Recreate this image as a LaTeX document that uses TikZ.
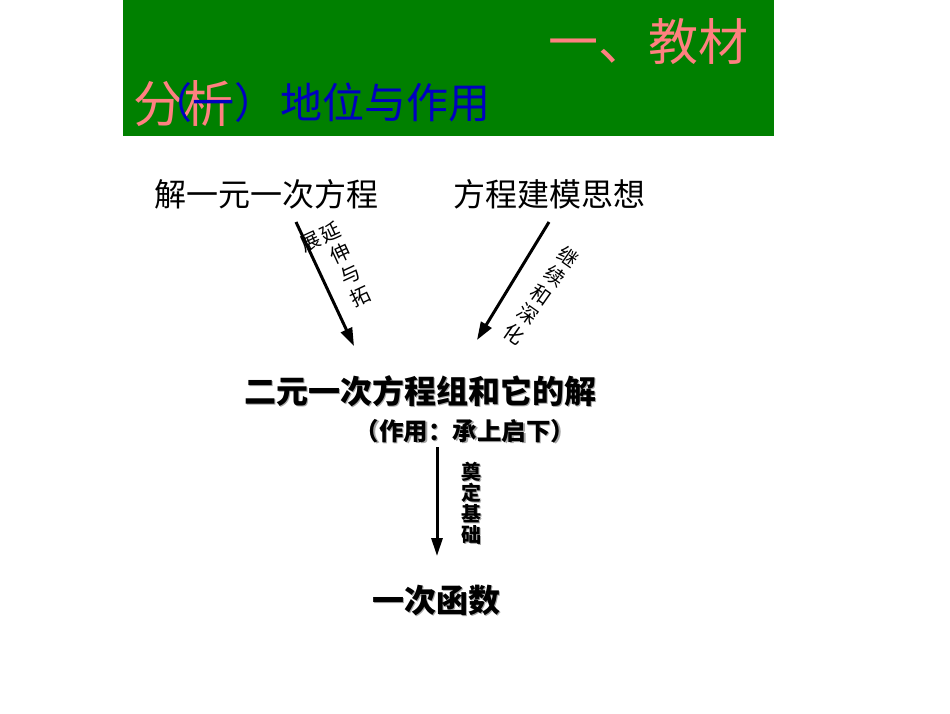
\documentclass[tikz,border=0pt]{standalone}
\usepackage{fontspec}
\usetikzlibrary{arrows.meta}
\newfontfamily\cjk{Noto Sans CJK SC}
\definecolor{bandgreen}{HTML}{008000}
\definecolor{pinktxt}{HTML}{FF8080}
\definecolor{bluetxt}{HTML}{0000C0}
\tikzset{
  lbl/.style={font=\cjk\fontsize{20}{23.5}\selectfont, align=center, inner sep=0pt},
  lblb/.style={font=\cjk\bfseries\fontsize{20}{21}\selectfont, align=center, inner sep=0pt},
  big/.style={font=\cjk\fontsize{32}{36}\selectfont, inner sep=0pt},
  bigb/.style={font=\cjk\bfseries\fontsize{32}{36}\selectfont, inner sep=0pt},
  midb/.style={font=\cjk\bfseries\fontsize{24.5}{28}\selectfont, inner sep=0pt},
  shadow/.style={text=black!35},
  arr/.style={line width=3pt, -{Triangle[length=18pt,width=12pt]}},
}
\begin{document}
\begin{tikzpicture}[x=1pt,y=1pt]
\useasboundingbox (0,0) rectangle (950,-713);
\fill[white] (0,0) rectangle (950,-713);
% header band
\fill[bandgreen] (123,0) rectangle (774,-136);
\node[font=\cjk\fontsize{50}{54}\selectfont, text=pinktxt, anchor=west, inner sep=0pt] (t1) at (548,-42) {一、教材};
\node[font=\cjk\fontsize{50}{54}\selectfont, text=pinktxt, anchor=west, inner sep=0pt] (t2) at (133,-104) {分析};
\node[font=\cjk\fontsize{42}{46}\selectfont, text=bluetxt, anchor=west, inner sep=0pt] (t3) at (150,-103) {（一）\hspace{4pt}地位与作用};
% top items
\node[big] (n1) at (266,-194) {解一元一次方程};
\node[big] (n2) at (549,-194) {方程建模思想};
% middle
\node[bigb, shadow] at (421.5,-392.5) {二元一次方程组和它的解};
\node[bigb] (n3) at (420,-391) {二元一次方程组和它的解};
\node[midb, shadow] at (466.5,-432.5) {（作用：承上启下）};
\node[midb] (n4) at (465,-431) {（作用：承上启下）};
% bottom
\node[bigb, shadow] at (437.5,-601.5) {一次函数};
\node[bigb] (n5) at (436,-600) {一次函数};
% connectors
\coordinate (a1s) at (296,-222);
\coordinate (a1e) at (354,-346);
\coordinate (a2s) at (549,-222);
\coordinate (a2e) at (477,-340);
\coordinate (a3s) at (437,-447);
\coordinate (a3e) at (437,-556);
\draw[arr] (a1s) -- (a1e);
\draw[arr] (a2s) -- (a2e);
\draw[line width=3pt, -{Triangle[length=18pt,width=11pt]}] (a3s) -- (a3e);
% arrow labels
\node[lbl, rotate=25] (l1a) at (345,-264) {延\\伸\\与\\拓};
\node[lbl, rotate=25] (l1b) at (311,-242) {展};
\node[lbl, rotate=-35] (l2) at (541.5,-295) {继\\续\\和\\深\\化};
\node[lblb, shadow] at (472,-504) {奠\\定\\基\\础};
\node[lblb] (l3) at (471,-503) {奠\\定\\基\\础};
\end{tikzpicture}
\end{document}
